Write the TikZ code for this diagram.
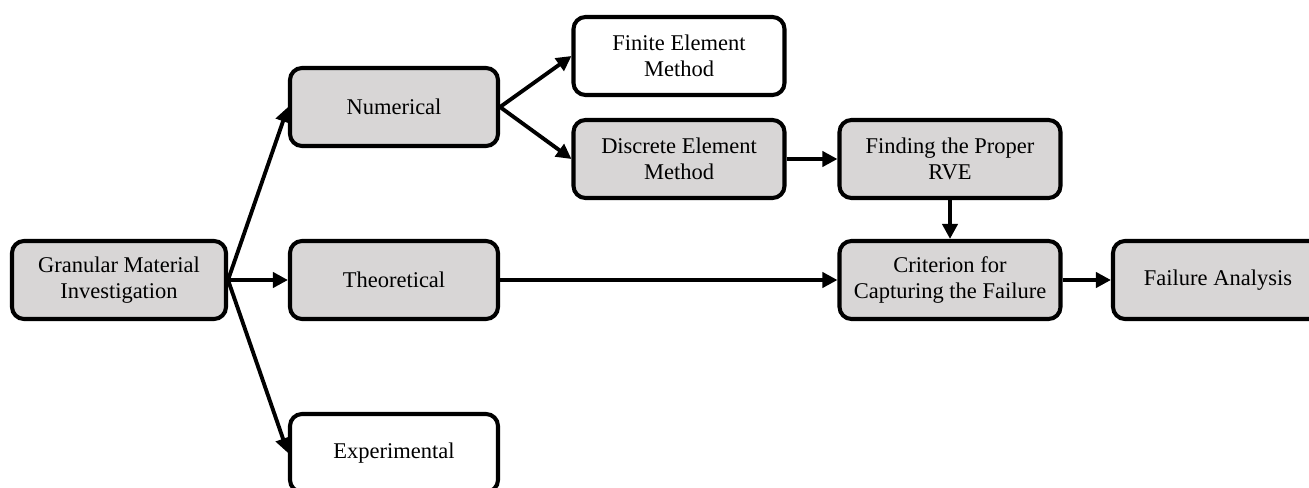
\documentclass[tikz,border=0pt]{standalone}
\usepackage{fontspec}
\setmainfont{Liberation Serif}
\usepackage{tikz}
\usetikzlibrary{arrows.meta,positioning}

\definecolor{boxgray}{RGB}{216,214,214}

\tikzset{
    box/.style={draw, line width=2.3pt, rounded corners=0.24cm, align=center,
        minimum height=1.56cm, font=\fontsize{12.8}{14.7}\selectfont, inner sep=2pt},
    gbox/.style={box, fill=boxgray},
    wbox/.style={box, fill=white},
    link/.style={->, line width=2.2pt}
}

\begin{document}
\begin{tikzpicture}[>={Triangle[length=0.3cm,width=0.3cm]}]
                \useasboundingbox (0,0) rectangle (26.18,-9.76);
                % left column
                \node[gbox, minimum width=4.28cm] (gmi) at (2.38,-5.6) {Granular Material\\Investigation};
                % branches
                \node[gbox, minimum width=4.16cm] (num) at (7.88,-2.14) {Numerical};
                \node[gbox, minimum width=4.16cm] (theo) at (7.88,-5.6) {Theoretical};
                \node[wbox, minimum width=4.16cm] (exp) at (7.88,-9.06) {Experimental};
                % numerical methods
                \node[wbox, minimum width=4.22cm] (fem) at (13.58,-1.12) {Finite Element\\Method};
                \node[gbox, minimum width=4.22cm] (dem) at (13.58,-3.18) {Discrete Element\\Method};
                % failure path
                \node[gbox, minimum width=4.42cm] (rve) at (19.0,-3.18) {Finding the Proper\\RVE};
                \node[gbox, minimum width=4.42cm] (crit) at (19.0,-5.6) {Criterion for\\Capturing the Failure};
                \node[gbox, minimum width=4.2cm] (fail) at (24.36,-5.6) {Failure Analysis};

                \draw[link] (gmi.east) -- (num.west);
                \draw[link] (gmi.east) -- (theo.west);
                \draw[link] (gmi.east) -- (exp.west);
                \draw[link] (num.east) -- (fem.west);
                \draw[link] (num.east) -- (dem.west);
                \draw[link] (dem.east) -- (rve.west);
                \draw[link] (rve.south) -- (crit.north);
                \draw[link] (theo.east) -- (crit.west);
                \draw[link] (crit.east) -- (fail.west);
\end{tikzpicture}
\end{document}
